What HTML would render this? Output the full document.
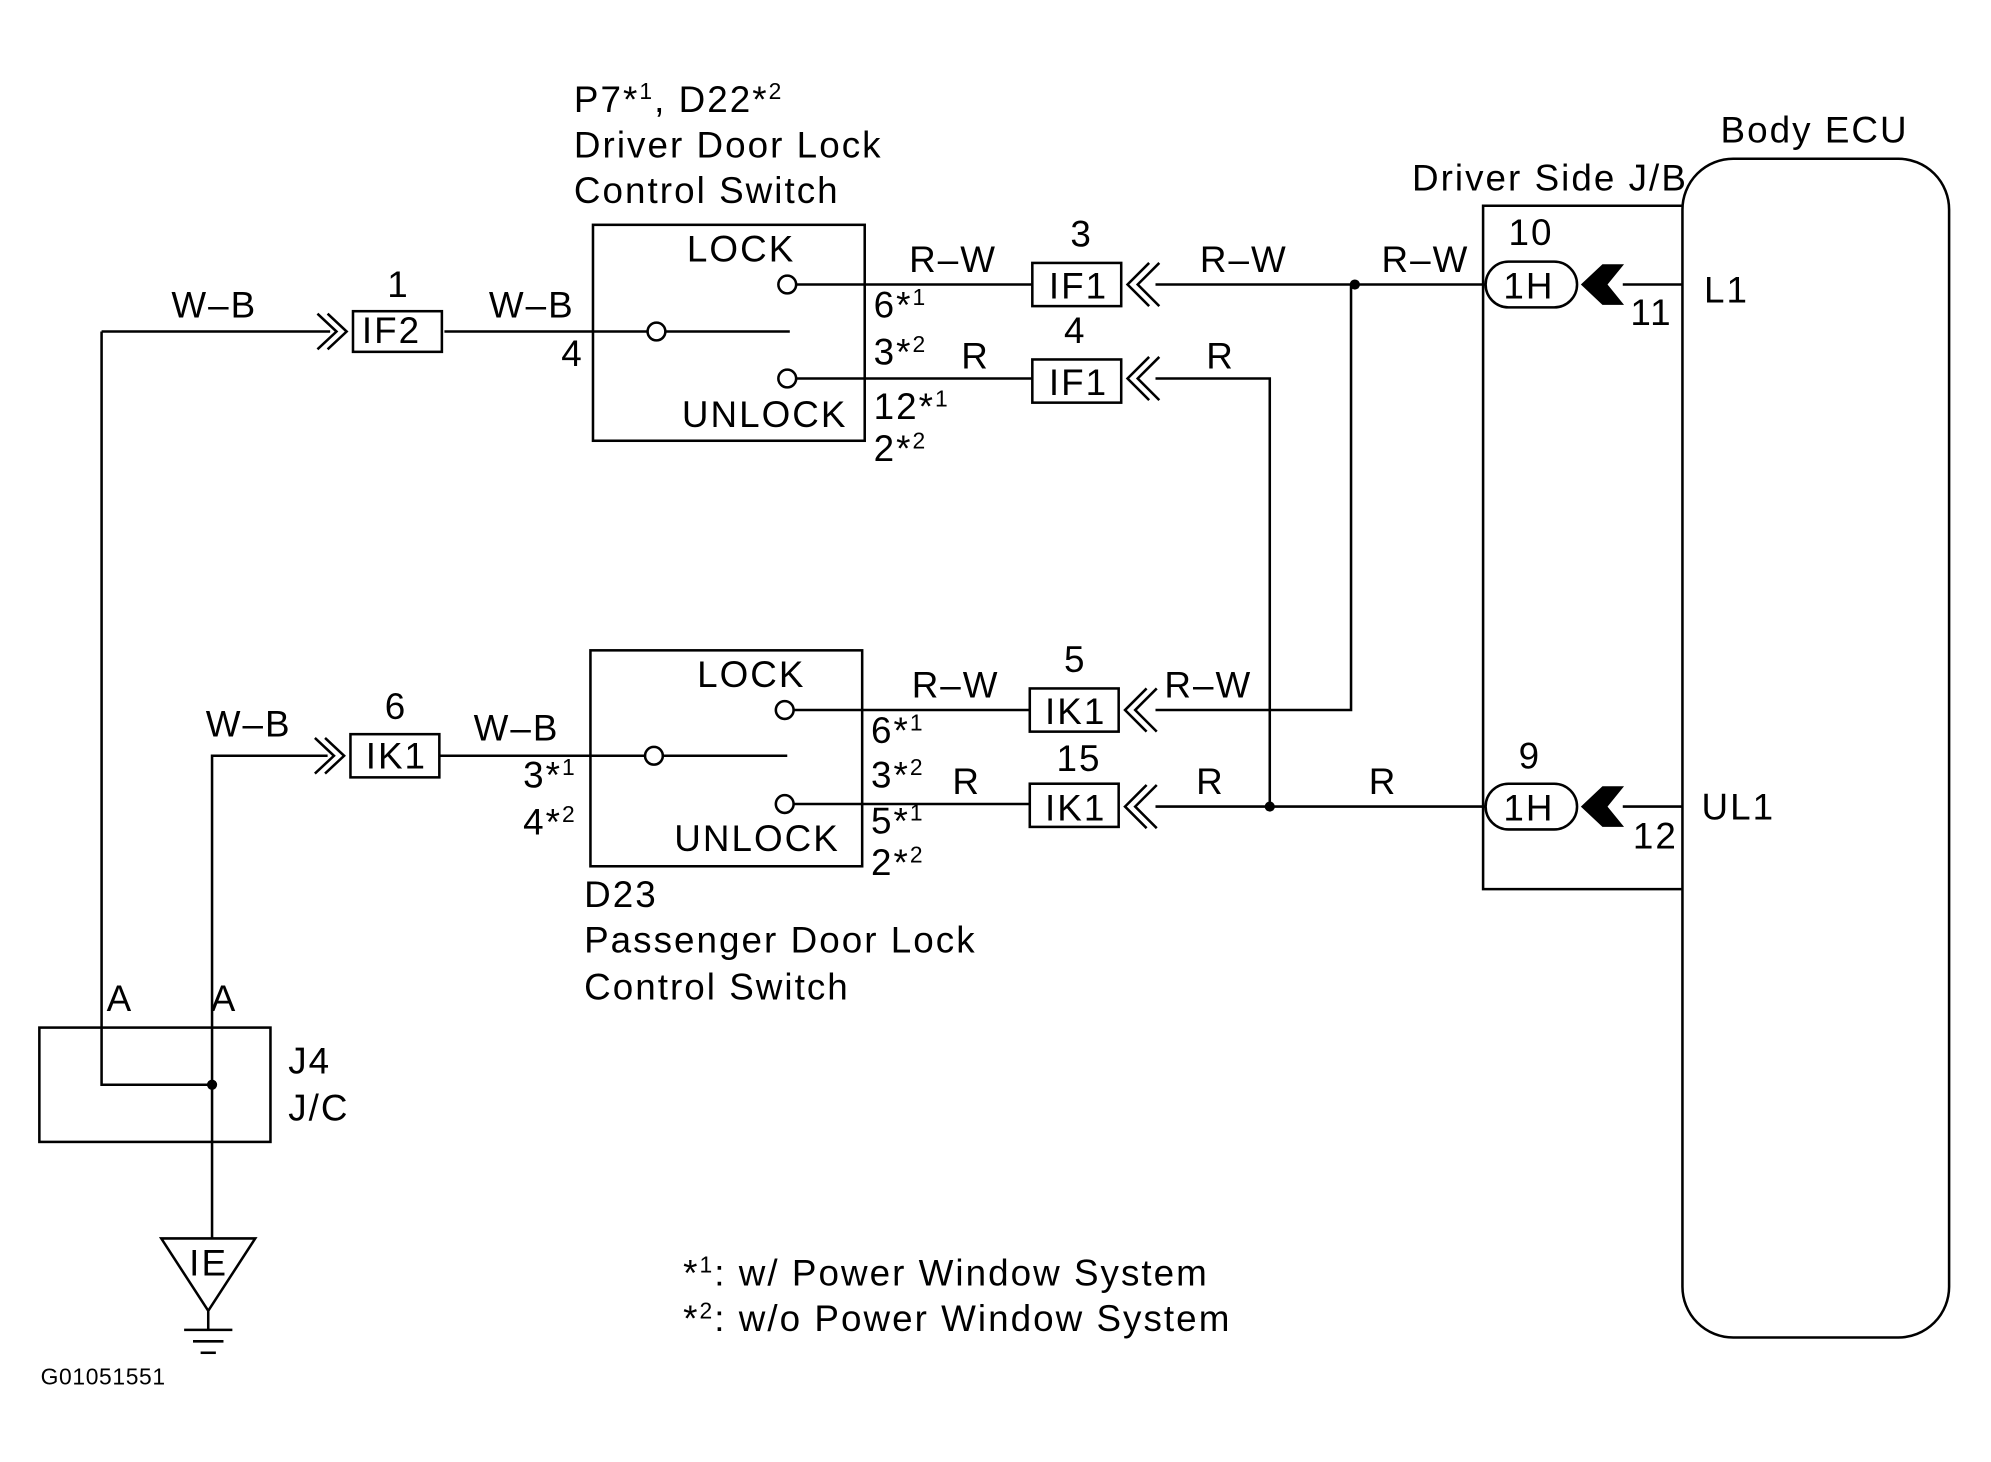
<!DOCTYPE html>
<html><head><meta charset="utf-8"><style>
html,body{margin:0;padding:0;background:#fff;}
svg{display:block;}
text{font-family:"Liberation Sans",Arial,sans-serif;font-size:29px;fill:#000;letter-spacing:1.6px;}
.s{font-size:18px;}
</style></head><body>
<svg width="1991" height="1462" viewBox="0 0 1568 1151" preserveAspectRatio="none" xmlns="http://www.w3.org/2000/svg">
<g fill="none" stroke="#000" stroke-width="2">
<rect x="467" y="177" width="214" height="170"/>
<circle cx="620" cy="224" r="7"/><line x1="627" y1="224" x2="813" y2="224"/>
<circle cx="517" cy="261" r="7"/><line x1="350" y1="261" x2="510" y2="261"/><line x1="524" y1="261" x2="622" y2="261"/>
<circle cx="620" cy="298" r="7"/><line x1="627" y1="298" x2="813" y2="298"/>
<rect x="813" y="207" width="70" height="34"/><rect x="813" y="283" width="70" height="34"/>
<polyline points="905,207 888,224 905,241"/><polyline points="913,207 896,224 913,241"/>
<polyline points="905,281 888,298 905,315"/><polyline points="913,281 896,298 913,315"/>
<line x1="910" y1="224" x2="1170" y2="224"/>
<polyline points="910,298 1000,298 1000,635"/>
<rect x="278" y="245" width="70" height="32"/>
<polyline points="250,247 265,261 250,275"/><polyline points="258,247 273,261 258,275"/>
<polyline points="80,261 260,261"/>
<polyline points="80,261 80,854 167,854"/>
<rect x="465" y="512" width="214" height="170"/>
<circle cx="618" cy="559" r="7"/><line x1="625" y1="559" x2="811" y2="559"/>
<circle cx="515" cy="595" r="7"/><line x1="346" y1="595" x2="508" y2="595"/><line x1="522" y1="595" x2="620" y2="595"/>
<circle cx="618" cy="633" r="7"/><line x1="625" y1="633" x2="811" y2="633"/>
<rect x="811" y="542" width="70" height="34"/><rect x="811" y="617" width="70" height="34"/>
<polyline points="903,542 886,559 903,576"/><polyline points="911,542 894,559 911,576"/>
<polyline points="903,618 886,635 903,652"/><polyline points="911,618 894,635 911,652"/>
<polyline points="910,559 1064,559 1064,224"/>
<line x1="910" y1="635" x2="1170" y2="635"/>
<rect x="276" y="578" width="70" height="34"/>
<polyline points="248,581 263,595 248,609"/><polyline points="256,581 271,595 256,609"/>
<polyline points="167,975 167,595 258,595"/>
<rect x="31" y="809" width="182" height="90"/>
<polygon points="127,975 201,975 164,1032"/>
<line x1="164" y1="1032" x2="164" y2="1047"/>
<line x1="145" y1="1047" x2="183" y2="1047"/><line x1="152" y1="1056" x2="176" y2="1056"/><line x1="158" y1="1065" x2="170" y2="1065"/>
<polyline points="1325,162 1168,162 1168,700 1325,700"/>
<rect x="1170" y="206" width="72" height="36" rx="18"/>
<rect x="1170" y="617" width="72" height="36" rx="18"/>
<line x1="1278" y1="224" x2="1325" y2="224"/>
<line x1="1278" y1="635" x2="1325" y2="635"/>
<rect x="1325" y="125" width="210" height="928" rx="40"/>
</g>
<g fill="#000">
<circle cx="1067" cy="224" r="4"/><circle cx="1000" cy="635" r="4"/><circle cx="167" cy="854" r="4"/>
<polygon points="1245,224 1262,208 1279,208 1266,224 1279,240 1262,240"/>
<polygon points="1245,635 1262,619 1279,619 1266,635 1279,651 1262,651"/>
</g>
<text x="452" y="88">P7*<tspan class="s" dy="-10">1</tspan><tspan dy="10">, D22*</tspan><tspan class="s" dy="-10">2</tspan></text>
<text x="452" y="124">Driver Door Lock</text>
<text x="452" y="160">Control Switch</text>
<text x="541" y="206">LOCK</text>
<text x="537" y="336">UNLOCK</text>
<text x="716" y="214">R–W</text>
<text x="688" y="250">6*<tspan class="s" dy="-10">1</tspan></text>
<text x="688" y="287">3*<tspan class="s" dy="-10">2</tspan></text>
<text x="757" y="290">R</text>
<text x="688" y="330">12*<tspan class="s" dy="-10">1</tspan></text>
<text x="688" y="363">2*<tspan class="s" dy="-10">2</tspan></text>
<text x="442" y="288">4</text>
<text x="385" y="250">W–B</text>
<text x="826" y="235">IF1</text><text x="826" y="311">IF1</text>
<text x="843" y="194">3</text><text x="838" y="270">4</text>
<text x="945" y="214">R–W</text><text x="1088" y="214">R–W</text>
<text x="950" y="290">R</text>
<text x="285" y="270">IF2</text><text x="305" y="234">1</text>
<text x="135" y="250">W–B</text>
<text x="549" y="541">LOCK</text>
<text x="531" y="670">UNLOCK</text>
<text x="718" y="549">R–W</text>
<text x="686" y="585">6*<tspan class="s" dy="-10">1</tspan></text>
<text x="686" y="620">3*<tspan class="s" dy="-10">2</tspan></text>
<text x="750" y="625">R</text>
<text x="686" y="656">5*<tspan class="s" dy="-10">1</tspan></text>
<text x="686" y="689">2*<tspan class="s" dy="-10">2</tspan></text>
<text x="412" y="620">3*<tspan class="s" dy="-10">1</tspan></text>
<text x="412" y="657">4*<tspan class="s" dy="-10">2</tspan></text>
<text x="373" y="583">W–B</text>
<text x="823" y="570">IK1</text><text x="823" y="646">IK1</text>
<text x="838" y="529">5</text><text x="832" y="607">15</text>
<text x="917" y="549">R–W</text>
<text x="942" y="625">R</text><text x="1078" y="625">R</text>
<text x="288" y="605">IK1</text><text x="303" y="566">6</text>
<text x="162" y="580">W–B</text>
<text x="460" y="714">D23</text>
<text x="460" y="750">Passenger Door Lock</text>
<text x="460" y="787">Control Switch</text>
<text x="84" y="796">A</text><text x="166" y="796">A</text>
<text x="227" y="845">J4</text><text x="227" y="882">J/C</text>
<text x="149" y="1004">IE</text>
<text x="32" y="1090" style="font-size:18px;letter-spacing:0.5px">G01051551</text>
<text x="538" y="1012">*<tspan class="s" dy="-10">1</tspan><tspan dy="10">: w/ Power Window System</tspan></text>
<text x="538" y="1048">*<tspan class="s" dy="-10">2</tspan><tspan dy="10">: w/o Power Window System</tspan></text>
<text x="1112" y="150">Driver Side J/B</text>
<text x="1355" y="112">Body ECU</text>
<text x="1184" y="235">1H</text><text x="1184" y="646">1H</text>
<text x="1188" y="193">10</text><text x="1196" y="605">9</text>
<text x="1284" y="256">11</text><text x="1286" y="668">12</text>
<text x="1342" y="238">L1</text><text x="1340" y="645">UL1</text>
</svg>
</body></html>
